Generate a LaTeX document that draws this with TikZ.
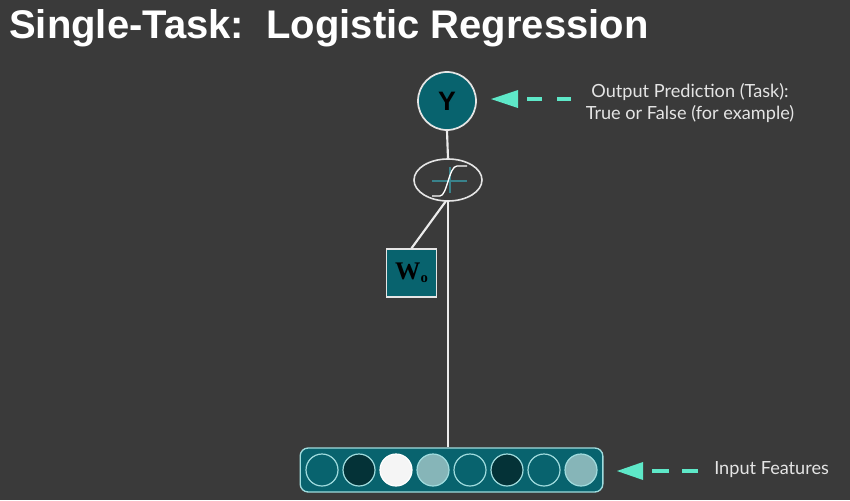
\documentclass[tikz,border=0pt]{standalone}
\usepackage{fontspec}
\setmainfont{Lato}
\newfontfamily\titlefont{Liberation Sans}
\newfontfamily\wfont{Liberation Serif}
\usetikzlibrary{shapes.geometric}
\definecolor{bg}{RGB}{58,58,58}
\definecolor{tealfill}{RGB}{8,99,110}
\definecolor{darkfill}{RGB}{4,50,55}
\definecolor{lightfill}{RGB}{134,181,184}
\definecolor{whitefill}{RGB}{245,245,245}
\definecolor{rim}{RGB}{160,220,222}
\definecolor{mint}{RGB}{94,232,200}
\definecolor{txt}{RGB}{228,228,228}
\tikzset{
  wire/.style={draw=white!92!black, line width=1.6pt},
  feat/.style={circle, draw=rim, line width=0.9pt, minimum size=24pt, inner sep=0pt},
  dashseg/.style={draw=mint, line width=3pt},
  tip/.style={fill=mint, draw=none},
  label/.style={text=txt, font=\fontsize{13.6}{16.5}\selectfont, align=center, inner sep=0pt},
}
\begin{document}
\begin{tikzpicture}[x=0.75pt,y=-0.75pt]
\fill[bg] (0,0) rectangle (850,500);
\useasboundingbox (0,0) rectangle (850,500);
% title
\node[anchor=west, text=white, inner sep=0pt, font=\titlefont\bfseries\fontsize{30}{36}\selectfont] (title) at (9,28) {Single-Task:\ \ Logistic Regression};
% output node
\node[circle, fill=tealfill, draw=white!90!black, line width=1.3pt, minimum size=43.5pt, inner sep=0pt,
      font=\titlefont\bfseries\fontsize{20}{24}\selectfont, text=black] (y) at (447,101) {Y};
% sigmoid
\node[ellipse, draw=white!90!black, line width=1.2pt, minimum width=51pt, minimum height=31.5pt, inner sep=0pt] (sig) at (448,180) {};
\draw[tealfill!80!white, line width=0.8pt] (432,181) -- (467,181);
\draw[tealfill!80!white, line width=0.8pt] (450,167) -- (450,193);
\draw[white, line width=1pt] (432,196) -- (440,196) .. controls (447,196) and (449,166) .. (457,166) -- (467,166);
% weight
\node[rectangle, fill=tealfill, draw=white!90!black, line width=1.1pt, minimum width=37.5pt, minimum height=36pt, inner sep=0pt,
      font=\wfont\bfseries\fontsize{19}{22}\selectfont, text=black] (w) at (411.5,273) {W\raisebox{-0.25ex}{\fontsize{11}{13}\selectfont o}};
% input features box
\node[rectangle, rounded corners=6pt, fill=tealfill, draw=rim, line width=1pt, minimum width=227pt, minimum height=33pt, inner sep=0pt] (inp) at (451.5,470) {};
\node[feat, fill=tealfill] (f1) at (322,470) {};
\node[feat, fill=darkfill] (f2) at (359,470) {};
\node[feat, fill=whitefill, draw=white] (f3) at (396,470) {};
\node[feat, fill=lightfill] (f4) at (433,470) {};
\node[feat, fill=tealfill] (f5) at (470,470) {};
\node[feat, fill=darkfill] (f6) at (507,470) {};
\node[feat, fill=tealfill] (f7) at (544,470) {};
\node[feat, fill=lightfill] (f8) at (581,470) {};
% connectors
\draw[wire] (y.south) -- (sig.north);
\coordinate (sigb) at (448,201);
\draw[wire] (sigb) -- (sigb |- inp.north);
\coordinate (sigw) at (446,201);
\draw[wire] (w.north) -- (sigw);
% output label with arrow
\fill[tip] (491,99) -- (518,90) -- (518,108) -- cycle;
\draw[dashseg] (527,99) -- (542,99);
\draw[dashseg] (557,99) -- (571,99);
\node[label] (outlbl) at (690,103) {Output Prediction (Task):\\True or False (for example)};
% input label with arrow
\fill[tip] (617,471) -- (643,462) -- (643,480) -- cycle;
\draw[dashseg] (652,471) -- (669,471);
\draw[dashseg] (682,471) -- (698,471);
\node[label, anchor=west] (inlbl) at (714,470) {Input Features};
\end{tikzpicture}
\end{document}
